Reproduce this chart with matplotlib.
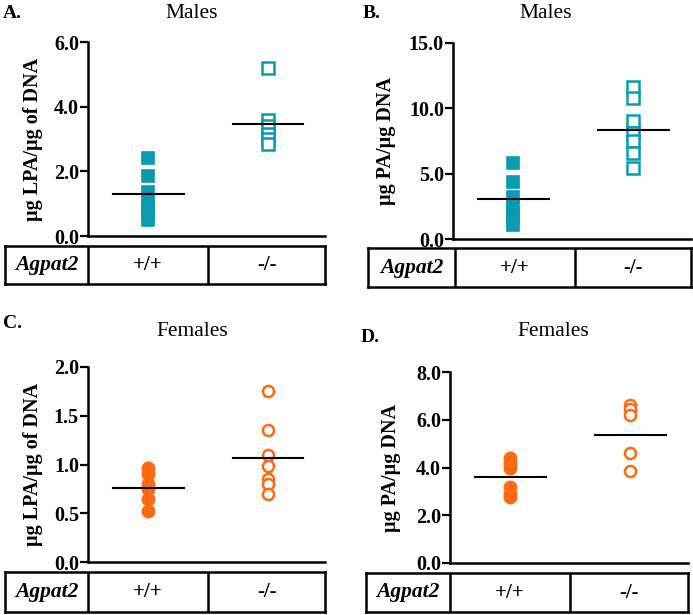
import numpy as np
import matplotlib
matplotlib.use("Agg")
import matplotlib.pyplot as plt

plt.rcParams["font.family"] = ["Liberation Serif", "DejaVu Serif"]

# values
groups = ["+/+", "-/-"]
gene = "Agpat2"

a_wt = [2.4, 1.85, 1.35, 1.1, 0.9, 0.7, 0.5]
a_ko = [5.2, 3.6, 3.4, 3.15, 3.0, 2.85]
a_mean = [1.3, 3.45]

b_wt = [5.85, 4.4, 3.2, 2.6, 2.0, 1.5, 1.1]
b_ko = [11.6, 10.8, 9.0, 8.1, 7.5, 6.6, 5.4]
b_mean = [3.05, 8.35]

c_wt = [0.96, 0.9, 0.8, 0.75, 0.65, 0.52]
c_ko = [1.75, 1.35, 1.1, 0.98, 0.85, 0.8, 0.7]
c_mean = [0.76, 1.07]

d_wt = [4.4, 4.2, 4.0, 3.2, 2.9, 2.75]
d_ko = [6.6, 6.45, 6.2, 4.6, 3.85]
d_mean = [3.6, 5.38]

teal = "#0a9ab2"
orange = "#ff6a10"

W, H = 693, 615
fig = plt.figure(figsize=(W / 100, H / 100), dpi=100)


def fx(px):
    return px / W


def fy(py):
    return 1 - py / H


def panel(box, wt, ko, means, ymax, ticks, ylabel, title, letter,
          color, marker, table, ylab_x, title_xy, letter_xy):
    l, r, t, b = box
    ax = fig.add_axes([fx(l), fy(b), fx(r - l), fy(t) - fy(b)])
    ax.plot(np.zeros(len(wt)), wt, ls="none", marker=marker, ms=8.8,
            mfc=color, mec=color, mew=1.2, zorder=3, clip_on=False)
    ax.plot(np.ones(len(ko)), ko, ls="none", marker=marker, ms=8.0,
            mfc="white", mec=color, mew=1.8, zorder=3, clip_on=False)
    for i, m in enumerate(means):
        ax.plot([i - 0.29, i + 0.3], [m, m], color="black", lw=1.5, zorder=4)
    ax.set_xlim(-0.5, 1.48)
    ax.set_ylim(0, ymax)
    ax.set_yticks(ticks)
    ax.set_yticklabels(["%.1f" % v for v in ticks], fontweight="bold", fontsize=14.5)
    ax.set_xticks([])
    for s in ["top", "right"]:
        ax.spines[s].set_visible(False)
    ax.spines["left"].set_linewidth(1.8)
    ax.spines["bottom"].set_linewidth(1.8)
    ax.tick_params(axis="y", direction="out", length=6, width=1.6, pad=0.5)
    fig.text(fx(ylab_x), (fy(t) + fy(b)) / 2, ylabel, rotation=90,
             ha="center", va="center", fontweight="bold", fontsize=14.5)
    fig.text(fx(title_xy[0]), fy(title_xy[1]), title, ha="center",
             va="center", fontsize=15.5)
    fig.text(fx(letter_xy[0]), fy(letter_xy[1]), letter, ha="left",
             va="center", fontsize=14, fontweight="bold")

    # genotype table under the axis
    tl, tr, tt, tb, d1, d2 = table
    tax = fig.add_axes([fx(tl), fy(tb), fx(tr - tl), fy(tt) - fy(tb)])
    tax.set_xlim(tl, tr)
    tax.set_ylim(tb, tt)
    tax.set_xticks([])
    tax.set_yticks([])
    for s in tax.spines.values():
        s.set_linewidth(1.8)
    tax.axvline(d1, color="black", lw=1.8)
    tax.axvline(d2, color="black", lw=1.8)
    ym = (tt + tb) / 2
    tax.text((tl + d1) / 2, ym, gene, ha="center", va="center",
             fontweight="bold", fontstyle="italic", fontsize=15.5)
    tax.text((d1 + d2) / 2, ym, groups[0], ha="center", va="center",
             fontsize=15, fontweight="semibold")
    tax.text((d2 + tr) / 2, ym, groups[1], ha="center", va="center",
             fontsize=15, fontweight="semibold")


panel((88, 325, 42, 236), a_wt, a_ko, a_mean, 6.0, [0, 2, 4, 6],
      "µg LPA/µg of DNA", "Males", "A.", teal, "s",
      (5, 325, 246, 284, 88, 208), 33, (192, 13), (3, 13))

panel((453, 691, 43, 239), b_wt, b_ko, b_mean, 15.0, [0, 5, 10, 15],
      "µg PA/µg DNA", "Males", "B.", teal, "s",
      (368, 691, 248, 287, 455, 575), 386, (546, 13), (363, 13))

panel((88, 325, 367, 562), c_wt, c_ko, c_mean, 2.0, [0, 0.5, 1.0, 1.5, 2.0],
      "µg LPA/µg of DNA", "Females", "C.", orange, "o",
      (5, 325, 572, 612, 88, 208), 33, (192, 332), (3, 324))

panel((450, 688, 372, 563), d_wt, d_ko, d_mean, 8.0, [0, 2, 4, 6, 8],
      "µg PA/µg DNA", "Females", "D.", orange, "o",
      (366, 688, 573, 612, 450, 570), 391, (553, 332), (361, 338))

fig.savefig("out.png", dpi=100)
